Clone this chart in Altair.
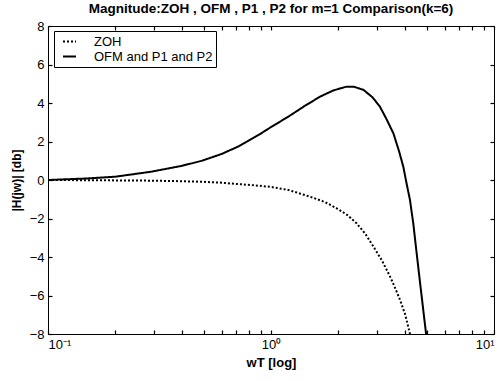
import altair as alt
import pandas as pd

# ZOH curve (dotted)
zoh_w = [0.1, 0.15, 0.2, 0.27, 0.35, 0.49, 0.6, 0.71, 0.85, 1.0, 1.2, 1.5, 1.75, 1.97, 2.2, 2.42, 2.65, 2.88, 3.15, 3.42, 3.6, 3.79, 4.0, 4.2]
zoh_y = [0.0, -0.01, -0.02, -0.03, -0.05, -0.09, -0.14, -0.21, -0.28, -0.36, -0.52, -0.87, -1.15, -1.47, -1.82, -2.25, -2.8, -3.46, -4.2, -5.02, -5.6, -6.23, -7.0, -8.0]

# OFM and P1 and P2 curve (solid)
ofm_w = [0.1, 0.15, 0.2, 0.29, 0.4, 0.49, 0.6, 0.71, 0.88, 1.0, 1.2, 1.4, 1.66, 1.9, 2.18, 2.35, 2.6, 2.85, 3.08, 3.3, 3.54, 3.75, 3.92, 4.05, 4.2, 4.35, 4.5, 4.7, 4.96]
ofm_y = [0.0, 0.08, 0.17, 0.43, 0.74, 1.0, 1.35, 1.73, 2.34, 2.75, 3.3, 3.81, 4.33, 4.65, 4.85, 4.85, 4.68, 4.3, 3.81, 3.15, 2.42, 1.5, 0.69, -0.15, -1.04, -2.3, -3.81, -5.7, -8.0]

series_names = ["ZOH", "OFM and P1 and P2"]

x_ticks = [0.1, 0.2, 0.3, 0.4, 0.5, 0.6, 0.7, 0.8, 0.9, 1, 2, 3, 4, 5, 6, 7, 8, 9, 10]
y_ticks = [-8, -6, -4, -2, 0, 2, 4, 6, 8]

W, H = 446, 308
FONT = "Liberation Sans"
TL = 4  # inward tick length in px

df = pd.concat([
    pd.DataFrame({"w": zoh_w, "y": zoh_y, "s": series_names[0]}),
    pd.DataFrame({"w": ofm_w, "y": ofm_y, "s": series_names[1]}),
])

xscale = alt.Scale(type="log", domain=[0.1, 10], nice=False)
yscale = alt.Scale(domain=[-8, 8], nice=False, zero=False)

common = dict(grid=False, domain=False, ticks=True, tickSize=TL, tickColor="black",
              tickWidth=1.2, offset=-TL, labelOverlap=False)

xaxis_bottom = alt.Axis(orient="bottom", values=x_ticks,
                        labelExpr="datum.value == 0.1 ? '10⁻¹' : (datum.value == 1 ? '10⁰' : (datum.value == 10 ? '10¹' : ''))",
                        labelFontSize=13, labelColor="black", labelPadding=4,
                        titleFontSize=13, titleFontWeight="bold", titlePadding=5,
                        labelFont=FONT, titleFont=FONT, titleColor="black", **common)
yaxis_left = alt.Axis(orient="left", values=y_ticks,
                      labelFontSize=13, labelColor="black", labelPadding=4,
                      titleFontSize=12, titleFontWeight="bold", titlePadding=6,
                      labelFont=FONT, titleFont=FONT, titleColor="black", **common)
xaxis_top = alt.Axis(orient="top", values=x_ticks, labels=False, title=None, **common)
yaxis_right = alt.Axis(orient="right", values=y_ticks, labels=False, title=None, **common)

lines = alt.Chart(df).mark_line(strokeWidth=2, clip=True).encode(
    x=alt.X("w:Q", scale=xscale, title="wT [log]", axis=xaxis_bottom),
    y=alt.Y("y:Q", scale=yscale, title="|H(jw)| [db]", axis=yaxis_left),
    color=alt.Color("s:N", scale=alt.Scale(domain=series_names, range=["black", "black"]),
                    legend=alt.Legend(title=None, orient="none", legendX=6, legendY=5,
                                      symbolType="stroke", symbolSize=169, symbolStrokeWidth=2,
                                      labelFontSize=13, labelFont=FONT, labelColor="black",
                                      strokeColor="black", fillColor="white",
                                      padding=3, rowPadding=0, labelOffset=17,
                                      labelLimit=300, symbolOffset=5)),
    strokeDash=alt.StrokeDash("s:N", scale=alt.Scale(domain=series_names, range=[[2, 2], [1, 0]]),
                              legend=None),
    order=alt.Order("w:Q"),
)

frame_axes = alt.Chart(df).mark_point(opacity=0).encode(
    x=alt.X("w:Q", scale=xscale, axis=xaxis_top),
    y=alt.Y("y:Q", scale=yscale, axis=yaxis_right),
)

chart = alt.layer(lines, frame_axes).resolve_axis(x="independent", y="independent").properties(
    width=W, height=H,
    title=alt.Title("Magnitude:ZOH , OFM , P1 , P2 for m=1 Comparison(k=6)",
                    fontSize=13.5, fontWeight="bold", font=FONT, color="black", offset=5),
    autosize=alt.AutoSizeParams(type="none"),
    padding={"left": 48, "top": 26, "right": 9, "bottom": 47},
    background="white",
).configure_view(stroke="black", strokeWidth=1)

chart.save("out.html", embed_options={"renderer": "svg", "actions": False})
